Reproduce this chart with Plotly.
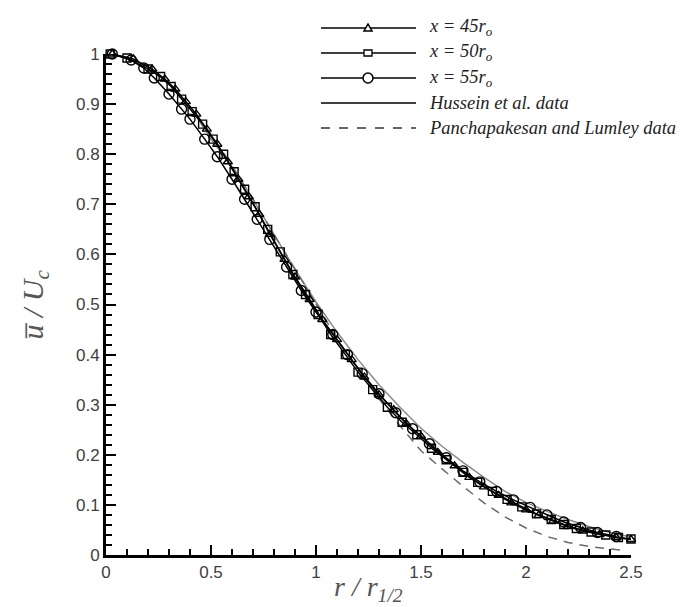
import plotly.graph_objects as go

# ---- data ----
r45 = [0.03, 0.13, 0.22, 0.28, 0.33, 0.38, 0.43, 0.48, 0.53, 0.58, 0.63, 0.68, 0.73, 0.78,
       0.85, 0.90, 0.97, 1.03, 1.10, 1.17, 1.23, 1.30, 1.37, 1.43, 1.50, 1.58, 1.66, 1.73,
       1.80, 1.87, 1.93, 2.00, 2.06, 2.13, 2.20, 2.27, 2.35, 2.43, 2.50]
u45 = [1.0, 0.99, 0.97, 0.95, 0.93, 0.905, 0.88, 0.85, 0.82, 0.785, 0.75, 0.715, 0.68, 0.64,
       0.59, 0.555, 0.51, 0.47, 0.43, 0.39, 0.355, 0.32, 0.29, 0.262, 0.237, 0.205, 0.178, 0.155,
       0.136, 0.119, 0.104, 0.09, 0.079, 0.068, 0.057, 0.048, 0.041, 0.035, 0.031]

r50 = [0.02, 0.10, 0.20, 0.26, 0.31, 0.36, 0.41, 0.46, 0.51, 0.56, 0.61, 0.66, 0.71, 0.77,
       0.83, 0.89, 0.95, 1.01, 1.07, 1.14, 1.20, 1.27, 1.34, 1.41, 1.48, 1.55, 1.62, 1.70,
       1.77, 1.84, 1.91, 1.98, 2.05, 2.12, 2.18, 2.24, 2.31, 2.38, 2.44, 2.50]
u50 = [1.0, 0.992, 0.97, 0.955, 0.935, 0.91, 0.885, 0.86, 0.83, 0.80, 0.765, 0.73, 0.695, 0.65,
       0.605, 0.56, 0.52, 0.48, 0.44, 0.40, 0.365, 0.33, 0.295, 0.265, 0.24, 0.213, 0.19, 0.165,
       0.145, 0.127, 0.111, 0.096, 0.082, 0.071, 0.061, 0.053, 0.046, 0.04, 0.035, 0.032]

r55 = [0.03, 0.12, 0.18, 0.23, 0.30, 0.36, 0.40, 0.47, 0.53, 0.60, 0.66, 0.72, 0.78, 0.86,
       0.93, 1.00, 1.08, 1.15, 1.22, 1.30, 1.38, 1.46, 1.54, 1.62, 1.70, 1.78, 1.86, 1.94,
       2.02, 2.10, 2.18, 2.26, 2.34, 2.43]
u55 = [1.0, 0.988, 0.972, 0.952, 0.92, 0.89, 0.87, 0.83, 0.795, 0.75, 0.71, 0.67, 0.63, 0.575,
       0.528, 0.485, 0.44, 0.4, 0.362, 0.322, 0.284, 0.252, 0.222, 0.194, 0.168, 0.146, 0.127, 0.11,
       0.095, 0.08, 0.066, 0.055, 0.045, 0.037]

r_hus = [0.0, 0.1, 0.2, 0.3, 0.4, 0.5, 0.6, 0.7, 0.8, 0.9, 1.0, 1.1, 1.2, 1.3, 1.4, 1.5, 1.6,
         1.7, 1.8, 1.9, 2.0, 2.1, 2.2, 2.3, 2.4, 2.5]
u_hus = [1.0, 0.993, 0.973, 0.94, 0.895, 0.83, 0.775, 0.71, 0.64, 0.57, 0.505, 0.445, 0.39,
         0.34, 0.295, 0.253, 0.217, 0.185, 0.155, 0.127, 0.105, 0.087, 0.071, 0.057, 0.045, 0.036]

r_pan = [0.0, 0.1, 0.2, 0.3, 0.4, 0.5, 0.6, 0.7, 0.8, 0.9, 1.0, 1.1, 1.2, 1.3, 1.4, 1.5, 1.6,
         1.7, 1.8, 1.9, 2.0, 2.1, 2.2, 2.3, 2.4, 2.45]
u_pan = [1.0, 0.993, 0.973, 0.94, 0.895, 0.84, 0.777, 0.71, 0.64, 0.57, 0.5, 0.432, 0.37,
         0.312, 0.258, 0.208, 0.172, 0.137, 0.104, 0.076, 0.054, 0.037, 0.025, 0.017, 0.012, 0.01]

x_ticks = [0, 0.5, 1, 1.5, 2, 2.5]
x_ticktext = ["0", "0.5", "1", "1.5", "2", "2.5"]
y_ticks = [0, 0.1, 0.2, 0.3, 0.4, 0.5, 0.6, 0.7, 0.8, 0.9, 1.0]
y_ticktext = ["0", "0.1", "0.2", "0.3", "0.4", "0.5", "0.6", "0.7", "0.8", "0.9", "1"]

legend_labels = ["x = 45r<sub>o</sub>", "x = 50r<sub>o</sub>", "x = 55r<sub>o</sub>",
                 "Hussein et al. data", "Panchapakesan and Lumley data"]

fig = go.Figure()

fig.add_trace(go.Scatter(x=r_hus, y=u_hus, mode="lines", line=dict(color="#8a8a8a", width=1.5),
                         showlegend=False, cliponaxis=False))
fig.add_trace(go.Scatter(x=r_pan, y=u_pan, mode="lines",
                         line=dict(color="#6a6a6a", width=1.5, dash="9px,7px"),
                         showlegend=False, cliponaxis=False))

series = [(r45, u45, "triangle-up-open", 8), (r50, u50, "square-open", 8), (r55, u55, "circle-open", 10)]
for rx, uy, sym, sz in series:
    fig.add_trace(go.Scatter(x=rx, y=uy, mode="lines+markers",
                             line=dict(color="black", width=1.5),
                             marker=dict(symbol=sym, size=sz, color="black", line=dict(width=1.4, color="black")),
                             showlegend=False, cliponaxis=False))

W, H = 697, 607
ML, MR, MT, MB = 98, 74, 46, 60

tickfont = dict(family="Liberation Sans, Arial, sans-serif", size=17, color="#404040")
fig.update_layout(
    width=W, height=H,
    margin=dict(l=ML, r=MR, t=MT, b=MB),
    paper_bgcolor="white", plot_bgcolor="white",
    xaxis=dict(range=[0, 2.5], tickvals=x_ticks, ticktext=x_ticktext, ticks="inside", ticklen=10,
               tickwidth=2.2, tickcolor="black", showline=True, linecolor="black", linewidth=3,
               showgrid=False, zeroline=False, tickfont=tickfont,
               minor=dict(ticks="inside", dtick=0.1, ticklen=6, tickwidth=1.5, tickcolor="black", showgrid=False)),
    yaxis=dict(range=[0, 1.0], tickvals=y_ticks, ticktext=y_ticktext, ticks="inside", ticklen=10,
               tickwidth=2.2, tickcolor="black", showline=True, linecolor="black", linewidth=3,
               showgrid=False, zeroline=False, tickfont=tickfont,
               minor=dict(ticks="inside", dtick=0.02, ticklen=6, tickwidth=1.5, tickcolor="black", showgrid=False)),
)

# axis titles
fig.add_annotation(text="<i>r / r<sub>1/2</sub></i>", xref="paper", yref="paper", x=0.5, y=0,
                   yshift=-53, showarrow=False, yanchor="bottom",
                   font=dict(family="Liberation Serif, Times New Roman, serif", size=28, color="#555555"))
fig.add_annotation(text="<i>u\u0305 / U<sub>c</sub></i>", xref="paper", yref="paper", x=0, y=0.5,
                   xshift=-72, showarrow=False, textangle=-90, xanchor="center",
                   font=dict(family="Liberation Serif, Times New Roman, serif", size=30, color="#555555"))

# manual legend (pixel layout)
def px(xp):
    return (xp - ML) / (W - ML - MR)

def py(yp):
    return 1 - (yp - MT) / (H - MT - MB)

rows = [20, 45, 70, 95, 120]
leg_styles = [("black", None, "tri"), ("black", None, "sq"), ("black", None, "circ"),
              ("black", None, None), ("#333333", "dash", None)]
for i, (lab, yrow) in enumerate(zip(legend_labels, rows)):
    col, dash, mk = leg_styles[i]
    fig.add_shape(type="line", xref="paper", yref="paper", x0=px(313), x1=px(408), y0=py(yrow), y1=py(yrow),
                  line=dict(color=col, width=1.5, dash=dash))
    if mk == "tri":
        fig.add_shape(type="path", xref="paper", yref="paper",
                      path=f"M {px(356)} {py(yrow+3)} L {px(364)} {py(yrow+3)} L {px(360)} {py(yrow-4)} Z",
                      line=dict(color="black", width=1.5), fillcolor="white")
    elif mk == "sq":
        fig.add_shape(type="rect", xref="paper", yref="paper", x0=px(356), x1=px(364), y0=py(yrow+3), y1=py(yrow-3),
                      line=dict(color="black", width=1.3), fillcolor="white")
    elif mk == "circ":
        fig.add_shape(type="circle", xref="paper", yref="paper", x0=px(355), x1=px(365), y0=py(yrow+5), y1=py(yrow-5),
                      line=dict(color="black", width=1.5), fillcolor="white")
    fig.add_annotation(text=f"<i>{lab}</i>", xref="paper", yref="paper", x=px(419), y=py(yrow),
                       xanchor="left", yanchor="middle", showarrow=False,
                       font=dict(family="Liberation Serif, Times New Roman, serif", size=18.5, color="#222222"))

fig.write_html("out.html")
